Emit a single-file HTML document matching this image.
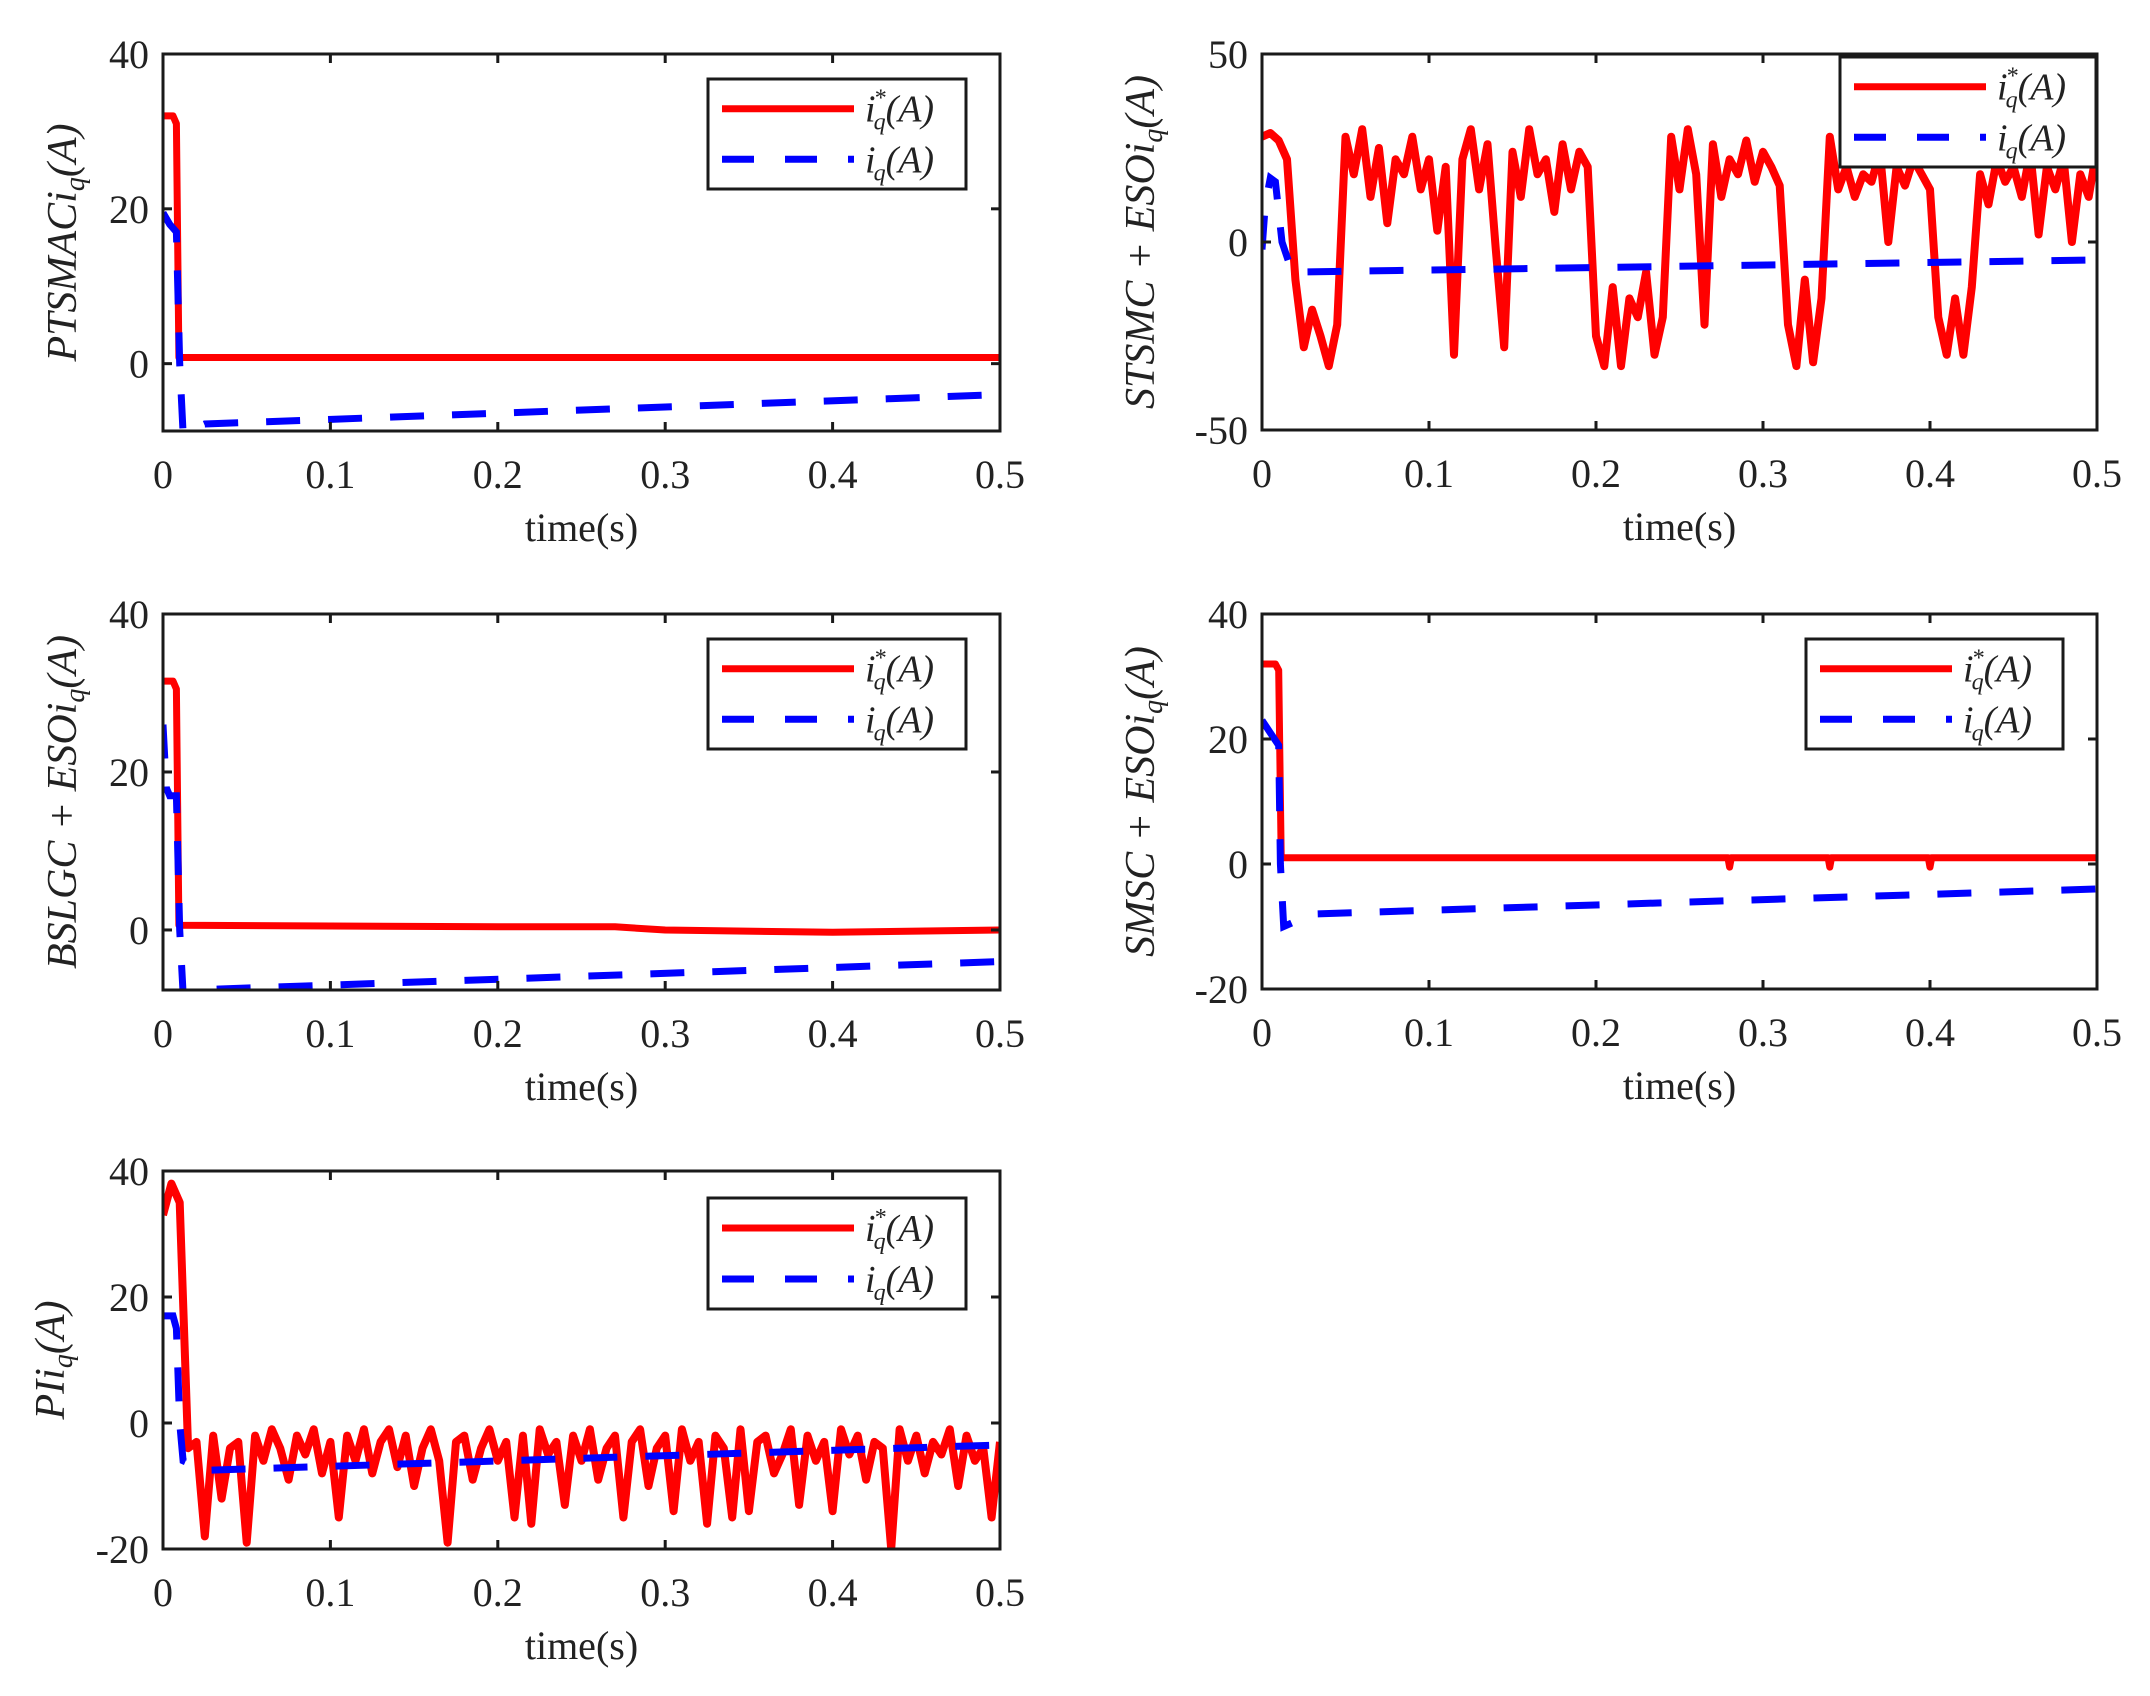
<!DOCTYPE html>
<html><head><meta charset="utf-8">
<style>
html,body{margin:0;padding:0;background:#fff;}
svg{display:block;}
text{font-family:"Liberation Serif",serif;fill:#222;}
</style></head>
<body>
<svg id="fig" width="2150" height="1696" viewBox="0 0 2150 1696" xmlns="http://www.w3.org/2000/svg"></svg>
<script>
// ---------- data ----------
const xTicks = [0, 0.1, 0.2, 0.3, 0.4, 0.5];
const xTickLabels = ["0", "0.1", "0.2", "0.3", "0.4", "0.5"];

// Plot 1 PTSMAC
const p1RefT = [0, 0.006, 0.008, 0.0095, 0.5];
const p1RefV = [32, 32, 31, 0.8, 0.8];
const p1CurT = [0, 0.004, 0.008, 0.01, 0.012, 0.025, 0.5];
const p1CurV = [19.5, 18, 17, 0, -9, -7.8, -4];

// Plot 2 STSMC+ESO
const p2RefV = [28,29,27,22,-10,-28,-18,-25,-33,-22,28,18,30,12,25,5,22,18,28,14,22,3,20,-30,22,30,14,26,-2,-28,24,12,30,18,22,8,26,14,24,20,-25,-33,-12,-33,-15,-20,-8,-30,-20,28,14,30,18,-22,26,12,22,18,27,16,24,20,15,-22,-33,-10,-32,-15,28,14,20,12,18,16,24,0,20,15,22,18,14,-20,-30,-15,-30,-12,18,10,22,16,20,12,24,2,20,14,22,0,18,12,25];
const p2CurT = [0, 0.002, 0.005, 0.008, 0.012, 0.018, 0.5];
const p2CurV = [-2, 10, 17, 16, 0, -8, -4.8];

// Plot 3 BSLGC+ESO
const p3RefT = [0, 0.006, 0.008, 0.0095, 0.1, 0.2, 0.27, 0.3, 0.4, 0.5];
const p3RefV = [31.5, 31.5, 30.5, 0.6, 0.5, 0.4, 0.4, 0, -0.3, 0];
const p3CurT = [0, 0.002, 0.004, 0.008, 0.01, 0.012, 0.03, 0.5];
const p3CurV = [26, 18, 17, 17, 0, -8, -7.5, -4];

// Plot 4 SMSC+ESO
const p4RefT = [0, 0.008, 0.01, 0.0115, 0.279, 0.28, 0.281, 0.339, 0.34, 0.341, 0.399, 0.4, 0.401, 0.5];
const p4RefV = [32, 32, 31, 1, 1, -0.5, 1, 1, -0.5, 1, 1, -0.5, 1, 1];
const p4CurT = [0, 0.005, 0.01, 0.011, 0.013, 0.03, 0.5];
const p4CurV = [23, 21, 19, 0, -10, -8, -4];

// Plot 5 PI
const p5RefV = [33,38,35,-4,-3,-18,-2,-12,-4,-3,-19,-2,-6,-1,-4,-9,-2,-5,-1,-8,-3,-15,-2,-6,-1,-8,-3,-1,-7,-2,-10,-4,-1,-6,-19,-3,-2,-9,-4,-1,-6,-3,-15,-2,-16,-1,-5,-3,-13,-2,-6,-1,-9,-4,-2,-15,-3,-1,-10,-4,-2,-14,-1,-6,-3,-16,-2,-4,-15,-1,-14,-3,-2,-8,-5,-1,-13,-2,-6,-3,-14,-1,-5,-2,-9,-3,-4,-20,-1,-6,-2,-8,-3,-5,-1,-10,-2,-6,-4,-15,-3];
const p5CurT = [0, 0.006, 0.008, 0.01, 0.012, 0.025, 0.5];
const p5CurV = [17, 17, 15, 0, -6, -7.5, -3.5];

const stepT = p2RefV.map((v, i) => i * 0.005);

// ---------- drawing ----------
const NS = "http://www.w3.org/2000/svg";
const svg = document.getElementById("fig");
function mk(tag, attrs, parent) {
  const e = document.createElementNS(NS, tag);
  for (const k in attrs) e.setAttribute(k, attrs[k]);
  (parent || svg).appendChild(e);
  return e;
}

const plots = [
  {id:"ptsmac", box:[163,54,1000,431], y:[-8.7,40], yt:[0,20,40], lab:"PTSMAC", labx:62, rw:7,
   ref:[p1RefT,p1RefV], cur:[p1CurT,p1CurV], leg:[708,79,966,189]},
  {id:"stsmc-eso", box:[1262,54,2097,430], y:[-50,50], yt:[-50,0,50], lab:"STSMC + ESO", labx:1140, rw:8,
   ref:[stepT,p2RefV], cur:[p2CurT,p2CurV], leg:[1840,57,2096,167]},
  {id:"bslgc-eso", box:[163,614,1000,990], y:[-7.6,40], yt:[0,20,40], lab:"BSLGC + ESO", labx:62, rw:7,
   ref:[p3RefT,p3RefV], cur:[p3CurT,p3CurV], leg:[708,639,966,749]},
  {id:"smsc-eso", box:[1262,614,2097,989], y:[-20,40], yt:[-20,0,20,40], lab:"SMSC + ESO", labx:1140, rw:7,
   ref:[p4RefT,p4RefV], cur:[p4CurT,p4CurV], leg:[1806,639,2063,749]},
  {id:"pi", box:[163,1171,1000,1549], y:[-20,40], yt:[-20,0,20,40], lab:"PI", labx:50, rw:8,
   ref:[stepT,p5RefV], cur:[p5CurT,p5CurV], leg:[708,1198,966,1309]}
];

plots.forEach(p => {
  const [L,T,R,B] = p.box;
  const g = mk("g", {});
  
  
  const sx = t => L + (t - 0) / 0.5 * (R - L);
  const sy = v => B - (v - p.y[0]) / (p.y[1] - p.y[0]) * (B - T);
  const cid = "clip-" + p.id;
  const cp = mk("clipPath", {id: cid}, g);
  mk("rect", {x: L, y: T, width: R - L, height: B - T}, cp);

  const pts = (ts, vs) => ts.map((t, i) => sx(t).toFixed(1) + "," + sy(vs[i]).toFixed(1)).join(" ");
  const red = mk("polyline", {points: pts(p.ref[0], p.ref[1]), fill: "none", stroke: "#ff0000", "stroke-width": p.rw, "stroke-linejoin": "round", "clip-path": "url(#" + cid + ")"}, g);
  
  
  const blue = mk("polyline", {points: pts(p.cur[0], p.cur[1]), fill: "none", stroke: "#0000ff", "stroke-width": 7, "stroke-dasharray": "34 28", "clip-path": "url(#" + cid + ")"}, g);
  
  

  const frame = mk("rect", {x: L, y: T, width: R - L, height: B - T, fill: "none", stroke: "#1a1a1a", "stroke-width": 3}, g);
  
  

  xTicks.forEach((t, i) => {
    const x = sx(t);
    mk("line", {x1: x, y1: B, x2: x, y2: B - 9, stroke: "#1a1a1a", "stroke-width": 3}, g);
    mk("line", {x1: x, y1: T, x2: x, y2: T + 9, stroke: "#1a1a1a", "stroke-width": 3}, g);
    const tx = mk("text", {x: x, y: B + 57, "font-size": 40, "text-anchor": "middle"}, g);
    tx.textContent = xTickLabels[i];
    
    
  });
  p.yt.forEach(v => {
    const y = sy(v);
    mk("line", {x1: L, y1: y, x2: L + 9, y2: y, stroke: "#1a1a1a", "stroke-width": 3}, g);
    mk("line", {x1: R, y1: y, x2: R - 9, y2: y, stroke: "#1a1a1a", "stroke-width": 3}, g);
    const ty = mk("text", {x: L - 14, y: y + 14, "font-size": 40, "text-anchor": "end"}, g);
    ty.textContent = String(v);
    
    
  });

  const xl = mk("text", {x: (L + R) / 2, y: B + 110, "font-size": 40, "text-anchor": "middle"}, g);
  xl.textContent = "time(s)";
  
  

  const cy = (T + B) / 2;
  const yl = mk("text", {x: 0, y: 0, "font-size": 42, "font-style": "italic", "text-anchor": "middle", transform: "translate(" + (p.labx + 14) + "," + cy + ") rotate(-90)"}, g);
  
  
  const s1 = mk("tspan", {}, yl); s1.textContent = p.lab + "i";
  const s2 = mk("tspan", {"font-size": 28, dy: 8}, yl); s2.textContent = "q";
  const s3 = mk("tspan", {dy: -8}, yl); s3.textContent = "(A)";

  // legend
  const [lx, ly, lr, lb] = p.leg;
  const lg = mk("g", {}, g);
  
  
  mk("rect", {x: lx, y: ly, width: lr - lx, height: lb - ly, fill: "#fff", stroke: "#1a1a1a", "stroke-width": 3}, lg);
  const h = lb - ly;
  const r1 = ly + h * 0.27, r2 = ly + h * 0.73;
  mk("line", {x1: lx + 14, y1: r1, x2: lx + 146, y2: r1, stroke: "#ff0000", "stroke-width": 7}, lg);
  mk("line", {x1: lx + 14, y1: r2, x2: lx + 146, y2: r2, stroke: "#0000ff", "stroke-width": 7, "stroke-dasharray": "32 31"}, lg);
  const e1 = mk("text", {x: lx + 157, y: r1 + 13, "font-size": 38, "font-style": "italic"}, lg);
  
  
  const a1 = mk("tspan", {}, e1); a1.textContent = "i";
  const a2 = mk("tspan", {"font-size": 24, dy: 8, dx: -2}, e1); a2.textContent = "q";
  const a3 = mk("tspan", {"font-size": 24, dy: -24, dx: -12}, e1); a3.textContent = "*";
  const a4 = mk("tspan", {dy: 16}, e1); a4.textContent = "(A)";
  const e2 = mk("text", {x: lx + 157, y: r2 + 13, "font-size": 38, "font-style": "italic"}, lg);
  
  
  const b1 = mk("tspan", {}, e2); b1.textContent = "i";
  const b2 = mk("tspan", {"font-size": 24, dy: 8, dx: -2}, e2); b2.textContent = "q";
  const b3 = mk("tspan", {dy: -8}, e2); b3.textContent = "(A)";
});
</script>
</body></html>
